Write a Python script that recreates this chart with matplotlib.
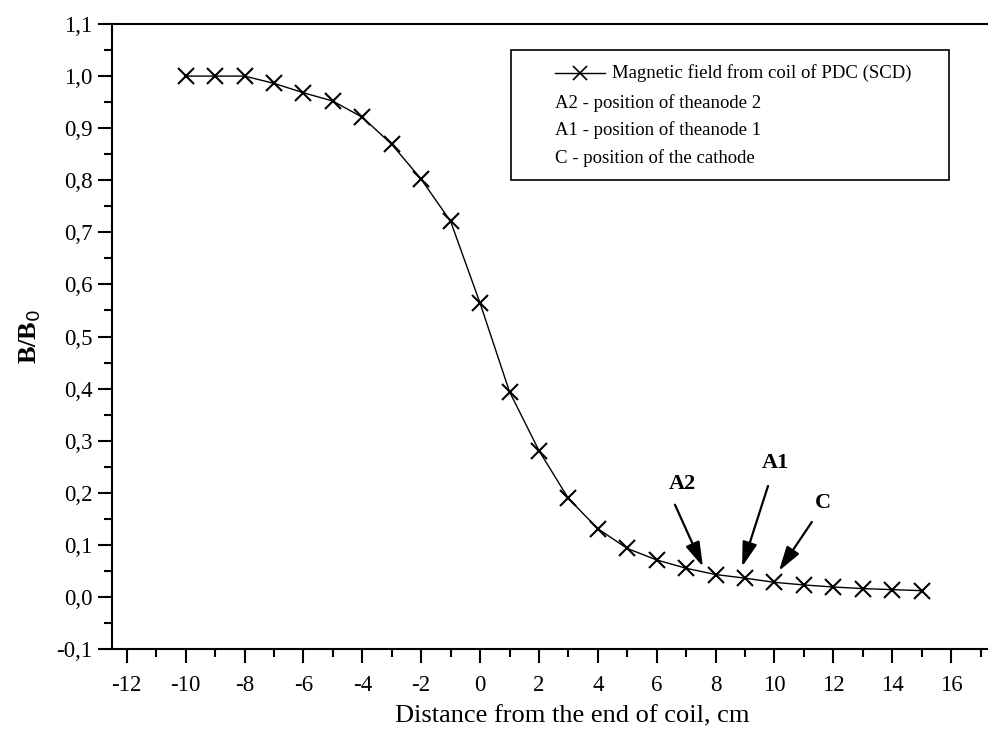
import matplotlib.pyplot as plt
from matplotlib.patches import Rectangle
from matplotlib.lines import Line2D

plt.rcParams['font.family'] = ['Liberation Serif', 'DejaVu Serif']
plt.rcParams['axes.unicode_minus'] = False

# distance from the end of coil, cm
dist = [-10, -9, -8, -7, -6, -5, -4, -3, -2, -1, 0, 1, 2, 3, 4,
        5, 6, 7, 8, 9, 10, 11, 12, 13, 14, 15]
# B/B0
field = [1.0, 1.0, 1.0, 0.986, 0.968, 0.952, 0.921, 0.869, 0.802, 0.721, 0.564, 0.394, 0.281, 0.189, 0.131,
         0.093, 0.071, 0.055, 0.043, 0.036, 0.028, 0.023, 0.019, 0.016, 0.014, 0.012]

# arrows: label, label pos, arrow start, arrow tip
marks = ['A2', 'A1', 'C']
label_pos = [(6.86, 0.217), (10.02, 0.258), (11.65, 0.18)]
arrow_from = [(6.62, 0.177), (9.78, 0.213), (11.27, 0.144)]
arrow_to = [(7.57, 0.058), (8.9, 0.058), (10.15, 0.05)]

legend_lines = ['Magnetic field from coil of PDC (SCD)',
                'A2 - position of theanode 2',
                'A1 - position of theanode 1',
                'C - position of the cathode']

fig = plt.figure(figsize=(9.88, 7.43), dpi=100)
ax = fig.add_axes([0.1134, 0.1265, 0.894, 0.8412])

ax.plot(dist, field, color='black', lw=1.0, marker='x', ms=11,
        mew=1.5, mfc='none', mec='black')

for m, lp, a0, a1 in zip(marks, label_pos, arrow_from, arrow_to):
    ax.text(lp[0], lp[1], m, fontsize=16, fontweight='bold', ha='center', va='center')
    ax.annotate('', xy=a1, xytext=a0,
                arrowprops=dict(arrowstyle='-|>,head_length=1.5,head_width=0.45',
                                color='black', lw=1.6, shrinkA=0, shrinkB=0))

ax.set_xlim(-12.5, 17.5)
ax.set_ylim(-0.1, 1.1)
ax.set_xticks(range(-12, 17, 2))
ax.set_xticks(range(-11, 18, 2), minor=True)
yt = [round(-0.1 + 0.1 * i, 1) for i in range(13)]
ax.set_yticks(yt)
ax.set_yticklabels([f'{v:.1f}'.replace('.', ',') for v in yt])
ax.set_yticks([round(-0.05 + 0.1 * i, 2) for i in range(12)], minor=True)
ax.tick_params(which='major', direction='out', length=10, width=1.5, labelsize=16.5, pad=4)
ax.tick_params(axis='x', which='major', pad=9)
ax.tick_params(which='minor', direction='out', length=6, width=1.5)
ax.spines['right'].set_visible(False)
for s in ['left', 'bottom', 'top']:
    ax.spines[s].set_linewidth(1.5)

ax.set_xlabel('Distance from the end of coil, cm', fontsize=19)
ax.xaxis.set_label_coords(0.521, -0.09)
ax.set_ylabel('B/B$_0$', fontsize=19, fontweight='bold', labelpad=10)

# legend box drawn in figure pixels
W, H = 988, 743
fig.patches.append(Rectangle((511 / W, 1 - 180 / H), (949 - 511) / W, 130 / H,
                             transform=fig.transFigure, fill=False, ec='black', lw=1.2))
fig.lines.append(Line2D([555 / W, 605 / W], [1 - 73 / H] * 2, transform=fig.transFigure,
                        color='black', lw=1.0))
fig.lines.append(Line2D([580 / W], [1 - 73 / H], transform=fig.transFigure,
                        color='black', marker='x', ms=10, mew=1.2))
ys = [73, 103, 130, 158]
xs = [612, 555, 555, 555]
for t, x, y in zip(legend_lines, xs, ys):
    fig.text(x / W, 1 - y / H, t, fontsize=13.5, ha='left', va='center')

fig.savefig('out.png', dpi=100)
